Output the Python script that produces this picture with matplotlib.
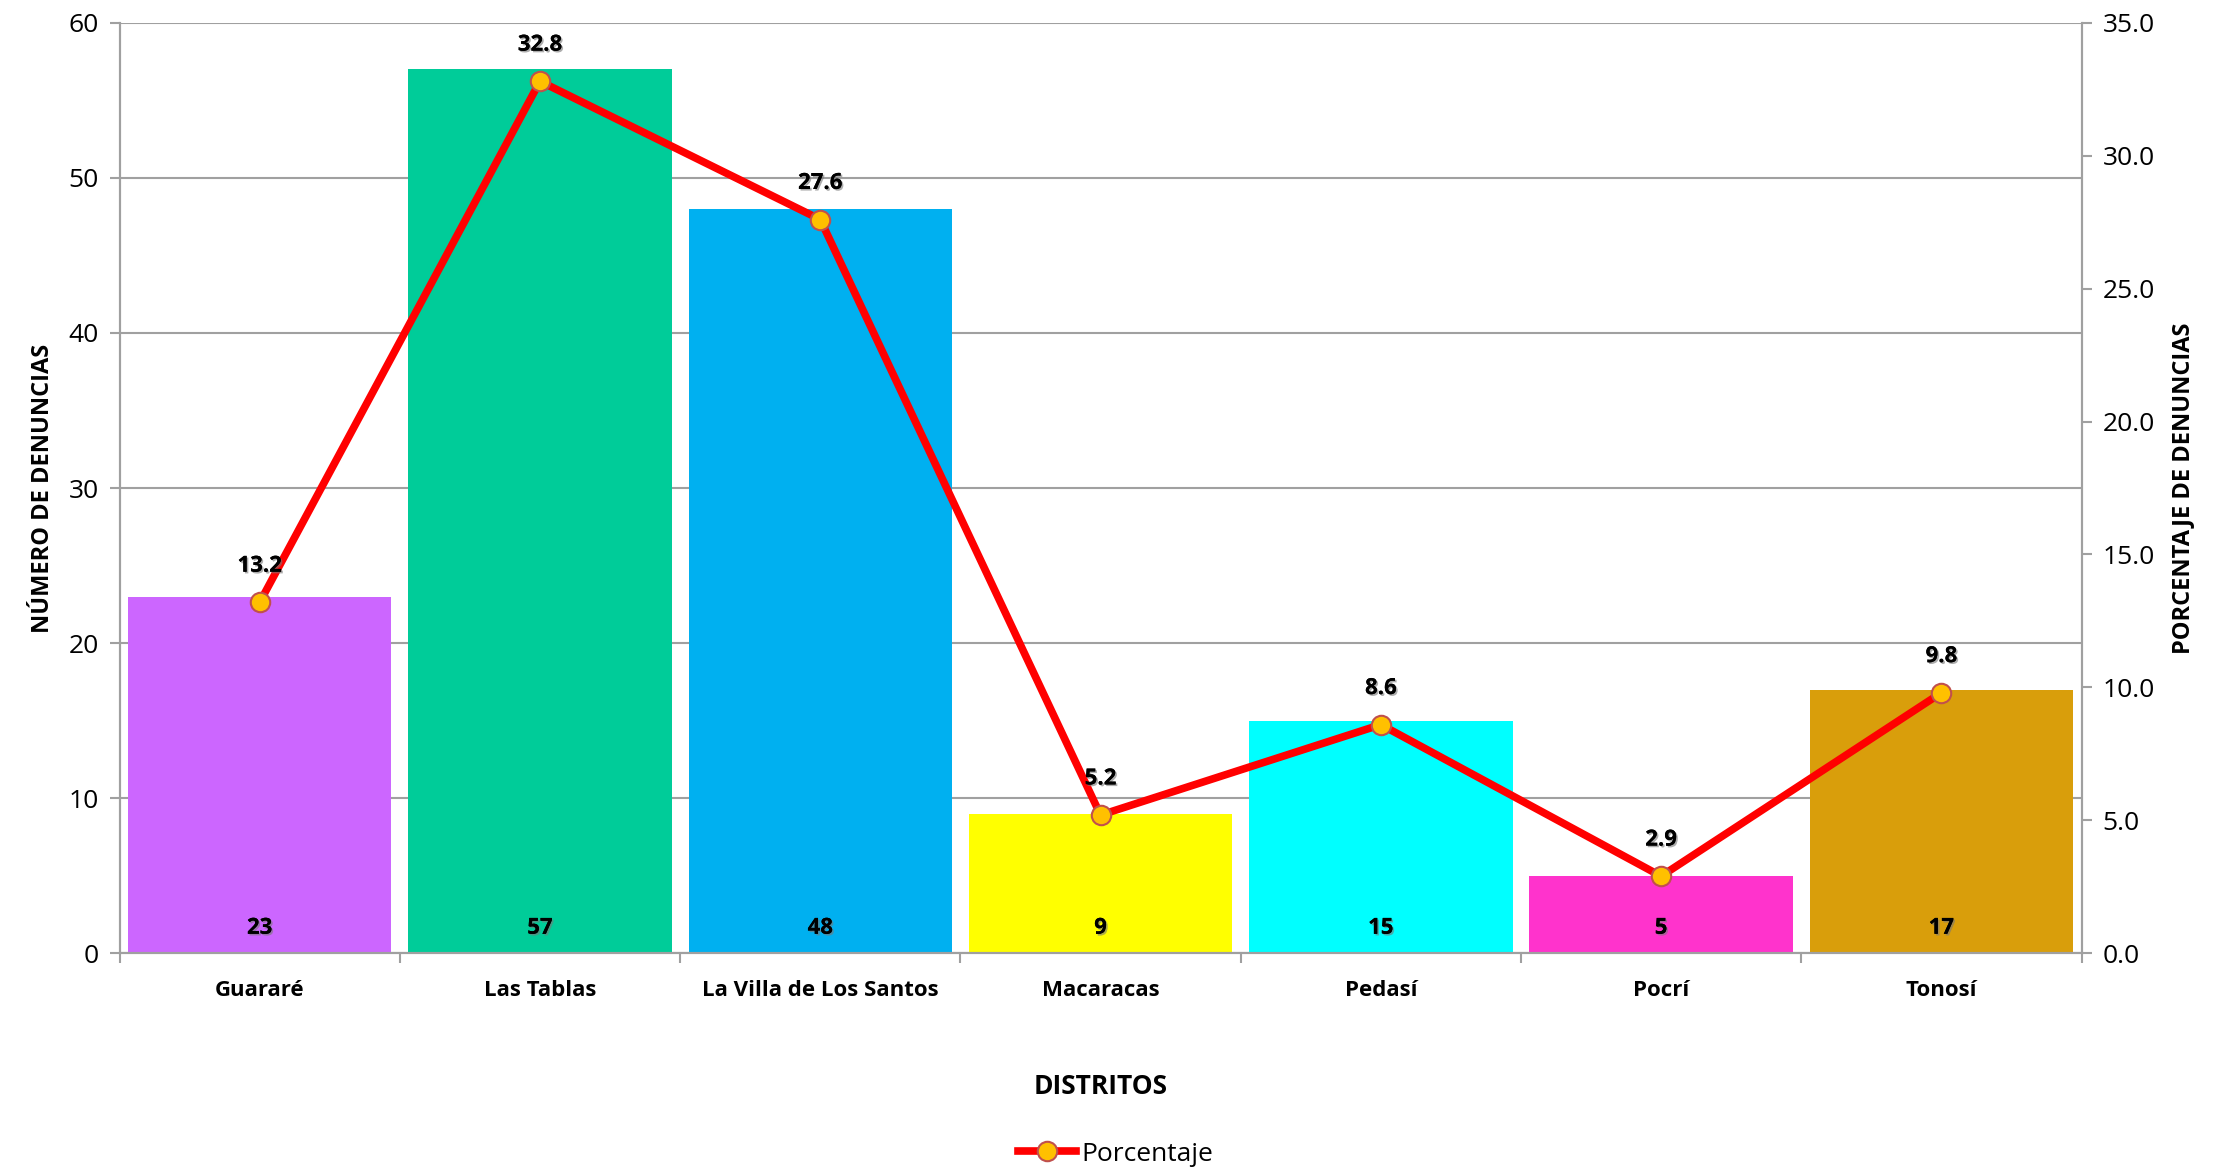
import matplotlib
matplotlib.use("Agg")
import matplotlib.pyplot as plt
import matplotlib.patheffects as pe
import numpy as np

# datos
distritos = ['Guararé', 'Las Tablas', 'La Villa de Los Santos', 'Macaracas', 'Pedasí', 'Pocrí', 'Tonosí']
denuncias = [23, 57, 48, 9, 15, 5, 17]
porcentaje = [13.2, 32.8, 27.6, 5.2, 8.6, 2.9, 9.8]
colores = ['#CC66FF', '#00CC99', '#00B0F0', '#FFFF00', '#00FFFF', '#FF33CC', '#D99E0B']

plt.rcParams['font.family'] = ['Open Sans', 'DejaVu Sans']
gris = '#A0A0A0'

fig = plt.figure(figsize=(22.31, 11.74), dpi=100)
ax = fig.add_axes([0.0536, 0.188, 0.8794, 0.7926])
x = np.arange(len(distritos))

ax.bar(x, denuncias, width=0.94, color=colores, zorder=2)
ax.set_xlim(-0.5, len(distritos) - 0.5)
ax.set_ylim(0, 60)
ax.set_yticks(range(0, 61, 10))
ax.grid(axis='y', color=gris, linewidth=1.5, zorder=0)
ax.set_axisbelow(True)

sombra = [pe.withSimplePatchShadow(offset=(1.2, -1.2), shadow_rgbFace='#777777', alpha=0.6), pe.Normal()]

# etiquetas en las barras
for xi, v in zip(x, denuncias):
    ax.annotate(str(v), xy=(xi, 0), xytext=(0, 18), textcoords='offset points',
                ha='center', va='center', fontsize=16, fontweight='bold',
                path_effects=sombra, zorder=5)

ax.set_xticks(x)
ax.set_xticklabels(distritos, fontsize=16, fontweight='bold')
ax.tick_params(axis='x', which='major', length=0, pad=19)
ax.set_xticks(np.arange(-0.5, len(distritos), 1), minor=True)
ax.tick_params(axis='x', which='minor', length=7, width=1.5, color=gris)
ax.tick_params(axis='y', labelsize=19, length=7, width=1.5, color=gris, pad=8)

for s in ['left', 'bottom', 'right', 'top']:
    ax.spines[s].set_color(gris)
    ax.spines[s].set_linewidth(1.5)
ax.spines['top'].set_visible(False)

ax.set_ylabel('NÚMERO DE DENUNCIAS', fontsize=17, fontweight='bold', labelpad=10)
ax.set_xlabel('DISTRITOS', fontsize=19, fontweight='bold', labelpad=52)

ax2 = ax.twinx()
ax2.set_ylim(0, 35)
ax2.set_yticks(np.arange(0, 35.1, 5))
ax2.set_yticklabels([f'{t:.1f}' for t in np.arange(0, 35.1, 5)])
ax2.tick_params(axis='y', labelsize=19, length=7, width=1.5, color=gris, pad=8)
for s in ['left', 'bottom', 'right', 'top']:
    ax2.spines[s].set_color(gris)
    ax2.spines[s].set_linewidth(1.5)
ax2.spines['top'].set_visible(False)
ax2.set_ylabel('PORCENTAJE DE DENUNCIAS', fontsize=17, fontweight='bold', labelpad=12)

linea, = ax2.plot(x, porcentaje, color='#FF0000', linewidth=5.5, marker='o', markersize=14,
                  markerfacecolor='#FFC000', markeredgecolor='#C0504D', markeredgewidth=1.5,
                  label='Porcentaje', zorder=4)
for xi, p in zip(x, porcentaje):
    ax2.annotate(f'{p:.1f}', xy=(xi, p), xytext=(0, 26), textcoords='offset points',
                 ha='center', va='center', fontsize=16, fontweight='bold',
                 path_effects=sombra, zorder=5)

fig.legend(handles=[linea], loc='center', bbox_to_anchor=(0.5, 0.017), frameon=False,
           fontsize=19, handlelength=2.2, handletextpad=0.2)

fig.savefig('out.png', dpi=100)
plt.close(fig)
